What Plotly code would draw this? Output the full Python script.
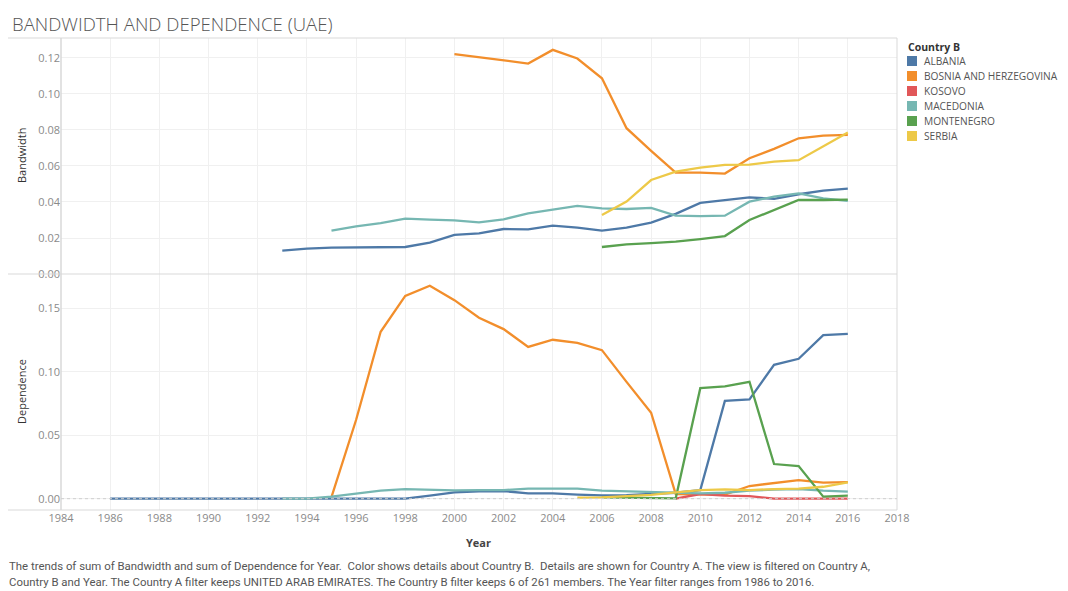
import plotly.graph_objects as go
from plotly.subplots import make_subplots

countries = ["ALBANIA", "BOSNIA AND HERZEGOVINA", "KOSOVO", "MACEDONIA", "MONTENEGRO", "SERBIA"]
colors = ["#4e79a7", "#f28e2b", "#e15759", "#76b7b2", "#59a14f", "#edc948"]

# Bandwidth (top pane)
bw_albania_years = list(range(1993, 2017))
bw_albania = [0.0130, 0.0141, 0.0146, 0.0146, 0.0146, 0.0150, 0.0174, 0.0217, 0.0226, 0.0250, 0.0248, 0.0269,
              0.0258, 0.0241, 0.0258, 0.0285, 0.0334, 0.0395, 0.0410, 0.0426, 0.0417, 0.0443, 0.0463, 0.0474]
bw_bosnia_years = list(range(2000, 2017))
bw_bosnia = [0.1222, 0.1205, 0.1185, 0.1169, 0.1245, 0.1197, 0.1087, 0.0810, 0.0684, 0.0563, 0.0563, 0.0558,
             0.0643, 0.0695, 0.0754, 0.0769, 0.0773]
bw_kosovo_years = []
bw_kosovo = []
bw_macedonia_years = list(range(1995, 2017))
bw_macedonia = [0.0241, 0.0265, 0.0283, 0.0308, 0.0302, 0.0298, 0.0287, 0.0304, 0.0337, 0.0356, 0.0378, 0.0365,
                0.0361, 0.0367, 0.0324, 0.0322, 0.0324, 0.0402, 0.0430, 0.0448, 0.0420, 0.0406]
bw_montenegro_years = list(range(2006, 2017))
bw_montenegro = [0.0150, 0.0165, 0.0172, 0.0180, 0.0194, 0.0211, 0.0300, 0.0356, 0.0411, 0.0411, 0.0413]
bw_serbia_years = list(range(2006, 2017))
bw_serbia = [0.0328, 0.0402, 0.0522, 0.0569, 0.0591, 0.0606, 0.0608, 0.0624, 0.0632, 0.0708, 0.0786]

# Dependence (bottom pane)
dep_albania_years = list(range(1986, 2017))
dep_albania = [0, 0, 0, 0, 0, 0, 0, 0, 0, 0, 0, 0, 0, 0.0024, 0.0050, 0.0058, 0.0060, 0.0042, 0.0042, 0.0032,
               0.0026, 0.0028, 0.0037, 0.0047, 0.0068, 0.0771, 0.0782, 0.1055, 0.1102, 0.1288, 0.1299]
dep_bosnia_years = list(range(1995, 2017))
dep_bosnia = [0.0012, 0.0620, 0.1315, 0.1598, 0.1677, 0.1564, 0.1425, 0.1336, 0.1196, 0.1252, 0.1228, 0.1170,
              0.0920, 0.0677, 0.0037, 0.0035, 0.0033, 0.0100, 0.0121, 0.0147, 0.0126, 0.0131]
dep_kosovo_years = list(range(2009, 2017))
dep_kosovo = [0.0, 0.0037, 0.0024, 0.0020, 0.0, 0.0, 0.0, 0.0]
dep_macedonia_years = list(range(1993, 2017))
dep_macedonia = [0, 0, 0.0016, 0.0037, 0.0063, 0.0076, 0.0071, 0.0065, 0.0068, 0.0068, 0.0079, 0.0079, 0.0079,
                 0.0063, 0.0058, 0.0052, 0.0047, 0.0042, 0.0047, 0.0063, 0.0071, 0.0076, 0.0063, 0.0055]
dep_montenegro_years = list(range(2006, 2017))
dep_montenegro = [0.0010, 0.0008, 0.0005, 0.0003, 0.0871, 0.0884, 0.0921, 0.0273, 0.0257, 0.0016, 0.0024]
dep_serbia_years = list(range(2005, 2017))
dep_serbia = [0.0008, 0.0010, 0.0020, 0.0030, 0.0050, 0.0068, 0.0073, 0.0068, 0.0076, 0.0079, 0.0094, 0.0129]

bw_series = [(bw_albania_years, bw_albania), (bw_bosnia_years, bw_bosnia), (bw_kosovo_years, bw_kosovo),
             (bw_macedonia_years, bw_macedonia), (bw_montenegro_years, bw_montenegro), (bw_serbia_years, bw_serbia)]
dep_series = [(dep_albania_years, dep_albania), (dep_bosnia_years, dep_bosnia), (dep_kosovo_years, dep_kosovo),
              (dep_macedonia_years, dep_macedonia), (dep_montenegro_years, dep_montenegro),
              (dep_serbia_years, dep_serbia)]

title_text = "BANDWIDTH AND DEPENDENCE (UAE)"
caption_lines = [
    "The trends of sum of Bandwidth and sum of Dependence for Year.  Color shows details about Country B.  Details are shown for Country A. The view is filtered on Country A,",
    "Country B and Year. The Country A filter keeps UNITED ARAB EMIRATES. The Country B filter keeps 6 of 261 members. The Year filter ranges from 1986 to 2016.",
]

# page body has an 8px margin: figure is placed at (8, 8) in the window
OFF = 8
W, H = 1068 - OFF, 591 - OFF
L, R, T, B = 61 - OFF, 171, 38 - OFF, 81
pw, ph = W - L - R, H - T - B

def px_x(x):
    return (x - OFF - L) / pw

def px_y(y):
    return (H - B - (y - OFF)) / ph

fig = make_subplots(rows=2, cols=1, shared_xaxes=True, vertical_spacing=0)

for name, col, (xs, ys) in zip(countries, colors, bw_series):
    if xs:
        fig.add_trace(go.Scatter(x=xs, y=ys, mode="lines", name=name, line=dict(color=col, width=2.3),
                                 showlegend=False), row=1, col=1)
for name, col, (xs, ys) in zip(countries, colors, dep_series):
    fig.add_trace(go.Scatter(x=xs, y=ys, mode="lines", name=name, line=dict(color=col, width=2.3),
                             showlegend=False), row=2, col=1)

grid = "#f0f0f0"
tickfont = dict(family="Open Sans", size=11, color="#8a8a8a")
fig.update_xaxes(range=[1984, 2018], dtick=2, tick0=1984, showgrid=True, gridcolor=grid, gridwidth=1,
                 zeroline=False, showline=False, ticks="", tickfont=tickfont)
fig.update_xaxes(showticklabels=False, row=1, col=1)
fig.update_yaxes(range=[0, 0.1311], dtick=0.02, tickformat=".2f", showgrid=True, gridcolor=grid,
                 zeroline=False, showline=False, ticks="", tickfont=tickfont, row=1, col=1)
fig.update_yaxes(range=[-0.0089, 0.177], dtick=0.05, tickformat=".2f", showgrid=True, gridcolor=grid,
                 zeroline=False, showline=False, ticks="", tickfont=tickfont, row=2, col=1)

line_col = "#d9d9d9"
shapes = [
    dict(type="line", xref="paper", yref="paper", x0=px_x(8), x1=1, y0=px_y(38), y1=px_y(38),
         line=dict(color=line_col, width=1)),
    dict(type="line", xref="paper", yref="paper", x0=px_x(8), x1=1, y0=px_y(274), y1=px_y(274),
         line=dict(color=line_col, width=1)),
    dict(type="line", xref="paper", yref="paper", x0=px_x(8), x1=1, y0=px_y(510), y1=px_y(510),
         line=dict(color=line_col, width=1)),
    dict(type="line", xref="paper", yref="paper", x0=0, x1=0, y0=0, y1=1,
         line=dict(color=line_col, width=1.5)),
    dict(type="line", xref="paper", yref="paper", x0=1, x1=1, y0=0, y1=1,
         line=dict(color=line_col, width=1)),
    dict(type="line", xref="x2 domain", yref="y2", x0=0, x1=1, y0=0, y1=0,
         line=dict(color="#cfcfcf", width=1, dash="dot")),
]

annotations = [
    dict(text=title_text, xref="paper", yref="paper", x=px_x(10), y=px_y(8.5), xanchor="left", yanchor="top",
         showarrow=False, font=dict(family="Open Sans", size=18.6, color="#555555", weight=300)),
    dict(text="Bandwidth", xref="paper", yref="paper", x=px_x(21), y=px_y(156), textangle=-90,
         xanchor="center", yanchor="middle", showarrow=False,
         font=dict(family="Open Sans", size=11, color="#333333")),
    dict(text="Dependence", xref="paper", yref="paper", x=px_x(21), y=px_y(392), textangle=-90,
         xanchor="center", yanchor="middle", showarrow=False,
         font=dict(family="Open Sans", size=11, color="#333333")),
    dict(text="<b>Year</b>", xref="paper", yref="paper", x=px_x(478), y=px_y(542), xanchor="center",
         yanchor="middle", showarrow=False, font=dict(family="Open Sans", size=11, color="#444444")),
    dict(text="<b>Country B</b>", xref="paper", yref="paper", x=px_x(906), y=px_y(47), xanchor="left",
         yanchor="middle", showarrow=False, font=dict(family="Open Sans", size=10.5, color="#333333")),
]
for i, line in enumerate(caption_lines):
    annotations.append(dict(text=line, xref="paper", yref="paper", x=px_x(7), y=px_y(566 + 16 * i),
                            xanchor="left", yanchor="middle", showarrow=False,
                            font=dict(family="Roboto", size=11.4, color="#555555")))

for i, (name, col) in enumerate(zip(countries, colors)):
    yc = 61 + 15 * i
    shapes.append(dict(type="rect", xref="paper", yref="paper", x0=px_x(907), x1=px_x(917),
                       y0=px_y(yc - 5), y1=px_y(yc + 5), fillcolor=col, line=dict(width=0)))
    annotations.append(dict(text=name, xref="paper", yref="paper", x=px_x(922), y=px_y(yc), xanchor="left",
                            yanchor="middle", showarrow=False,
                            font=dict(family="Open Sans", size=10.2, color="#555555")))

fig.update_layout(width=W, height=H, margin=dict(l=L, r=R, t=T, b=B), plot_bgcolor="white",
                  paper_bgcolor="white", shapes=shapes, annotations=annotations, showlegend=False)

fig.write_html("out.html")
